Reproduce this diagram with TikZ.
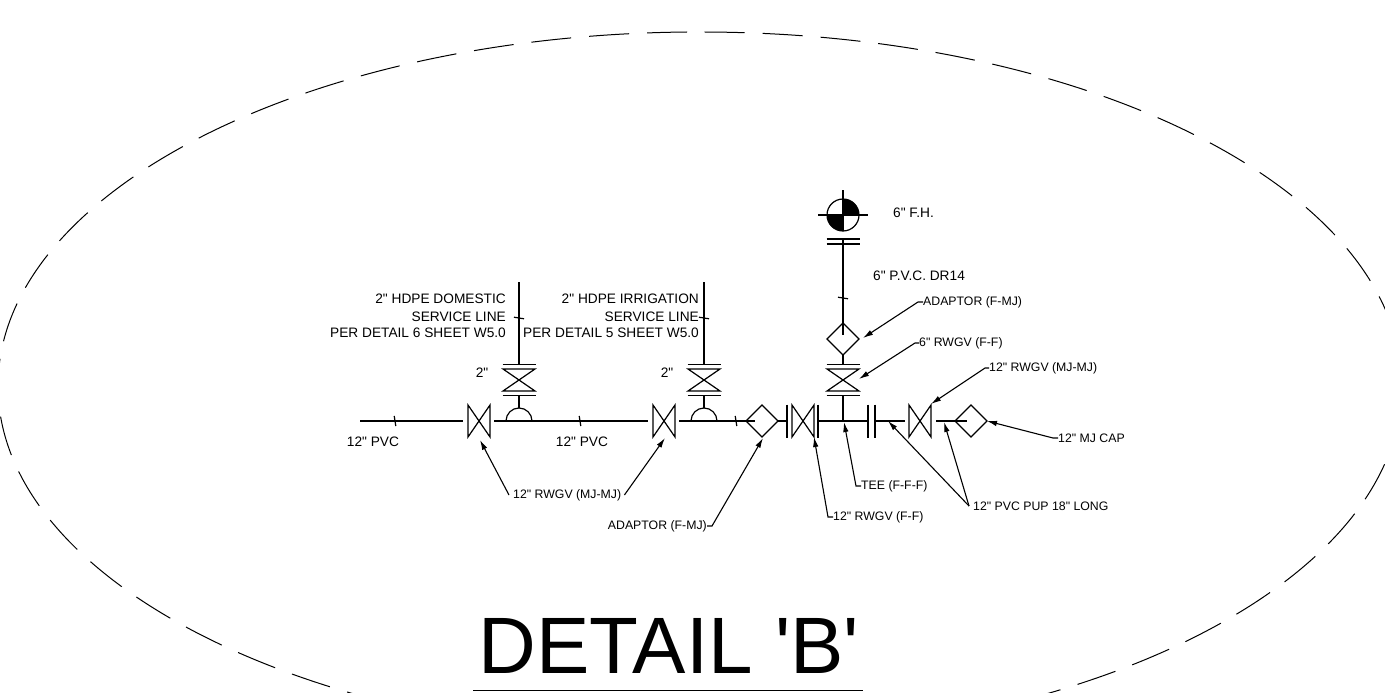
\documentclass[tikz,border=0pt]{standalone}
\usepackage{fontspec}
\newfontfamily\cadfont{Liberation Sans}
\usetikzlibrary{arrows.meta}
\tikzset{
	pipe/.style={line width=1.2pt, color=black},
	leader/.style={line width=1.1pt, color=black, -{Latex[length=10pt,width=5.5pt]}},
	outline/.style={line width=1pt, dash pattern=on 40pt off 18pt},
	lbl/.style={inner sep=0pt, font=\cadfont\fontsize{12.3}{14}\selectfont},
	lblbig/.style={inner sep=0pt, font=\cadfont\fontsize{13.7}{15}\selectfont}
}
\def\valveH(#1, #2){\draw[pipe, shift={(#1, #2)}] (-11, -16) -- (-11, 16) -- (11, -16) -- (11, 16) -- cycle;}
\def\valveV(#1, #2){\draw[pipe, shift={(#1, #2)}] (-16, -11) -- (16, -11) -- (-16, 11) -- (16, 11) -- cycle;}
\def\fitting(#1, #2){\draw[pipe, shift={(#1, #2)}] (-16, 0) -- (0, -16) -- (16, 0) -- (0, 16) -- cycle;}
\def\tickH(#1, #2){\draw[pipe, shift={(#1, #2)}] (-0.8, -5) -- (0.8, 5);}
\def\tickV(#1, #2){\draw[pipe, shift={(#1, #2)}] (-5, -0.8) -- (5, 0.8);}
\def\barH(#1, #2){\draw[pipe] (#1-16.5, #2) -- (#1+16.5, #2);}
\def\barV(#1, #2){\draw[pipe] (#1, #2-16.5) -- (#1, #2+16.5);}

\begin{document}
\begin{tikzpicture}[x=1pt, y=-1pt]
	%%%%% START %%%%%
	\useasboundingbox (0, 0) rectangle (1385, 693);
	\clip (0, 0) rectangle (1385, 693);

	\draw[outline] (704.7, 32) arc [start angle=-89.6, end angle=90, x radius=702, y radius=354];
	\draw[outline] (687, 32) arc [start angle=-91.06, end angle=-270, x radius=702, y radius=354];

	\node[inner sep=0pt, anchor=base, font=\cadfont\fontsize{80}{84}\selectfont] (title) at (669, 673) {DETAIL 'B'};
	\draw[line width=1.2pt] (473, 690.5) -- (863, 690.5);

	% main line
	\coordinate (a0) at (360, 421);
	\coordinate (a1) at (463, 421);
	\coordinate (a2) at (494, 421);
	\coordinate (a3) at (648, 421);
	\coordinate (a4) at (679, 421);
	\coordinate (a5) at (755, 421);
	\coordinate (a6) at (777, 421);
	\coordinate (a7) at (787, 421);
	\coordinate (a8) at (818, 421);
	\coordinate (a9) at (868, 421);
	\coordinate (a10) at (875, 421);
	\coordinate (a11) at (905, 421);
	\coordinate (a12) at (936, 421);
	\coordinate (a13) at (967, 421);
	\draw[pipe] (a0) -- (a1);
	\draw[pipe] (a2) -- (a3);
	\draw[pipe] (a4) -- (a5);
	\draw[pipe] (a6) -- (a7);
	\draw[pipe] (a8) -- (a9);
	\draw[pipe] (a10) -- (a11);
	\draw[pipe] (a12) -- (a13);

	\tickH(395, 421)
	\tickH(580, 421)
	\tickH(736, 421)
	\valveH(479, 421)
	\valveH(664, 421)
	\valveH(803, 421)
	\valveH(920, 421)
	\barV(787, 421)
	\barV(818, 421)
	\barV(868, 421)
	\barV(875, 421)
	\fitting(762, 421)
	\fitting(971, 421)

	% service lines
	\coordinate (b0) at (519, 282);
	\coordinate (b1) at (519, 364);
	\coordinate (b2) at (519, 395);
	\coordinate (b3) at (519, 408);
	\draw[pipe] (b0) -- (b1);
	\draw[pipe] (b2) -- (b3);
	\tickV(519, 318)
	\barH(519, 364.5)
	\valveV(519, 380)
	\barH(519, 395.5)
	\draw[pipe] (506, 421) arc (180:360:13);

	\coordinate (c0) at (704, 282);
	\coordinate (c1) at (704, 364);
	\coordinate (c2) at (704, 395);
	\coordinate (c3) at (704, 408);
	\draw[pipe] (c0) -- (c1);
	\draw[pipe] (c2) -- (c3);
	\tickV(704, 318)
	\barH(704, 364.5)
	\valveV(704, 380)
	\barH(704, 395.5)
	\draw[pipe] (691, 421) arc (180:360:13);

	% hydrant leg
	\coordinate (d0) at (843, 190);
	\coordinate (d1) at (843, 231);
	\coordinate (d2) at (843, 239);
	\coordinate (d3) at (843, 335);
	\coordinate (d4) at (843, 355);
	\coordinate (d5) at (843, 364);
	\coordinate (d6) at (843, 395);
	\coordinate (d7) at (843, 421);
	\coordinate (d8) at (818, 215);
	\coordinate (d9) at (868, 215);
	\fill (843, 215) -- (859, 215) arc (0:-90:16) -- cycle;
	\fill (843, 215) -- (827, 215) arc (180:90:16) -- cycle;
	\draw[pipe] (843, 215) circle (16);
	\draw[pipe] (d0) -- (d1);
	\draw[pipe] (d8) -- (d9);
	\barH(843, 239)
	\barH(843, 244)
	\draw[pipe] (d2) -- (d3);
	\tickV(843, 298)
	\fitting(843, 339)
	\draw[pipe] (d4) -- (d5);
	\barH(843, 364.5)
	\valveV(843, 380)
	\barH(843, 395.5)
	\draw[pipe] (d6) -- (d7);

	% labels
	\node[lblbig, anchor=east] (dom1) at (506, 299) {2" HDPE DOMESTIC};
	\node[lblbig, anchor=east] (dom2) at (506, 317) {SERVICE LINE};
	\node[lblbig, anchor=east] (dom3) at (506, 333) {PER DETAIL 6 SHEET W5.0};
	\node[lblbig, anchor=east] (irr1) at (699, 299) {2" HDPE IRRIGATION};
	\node[lblbig, anchor=east] (irr2) at (699, 317) {SERVICE LINE};
	\node[lblbig, anchor=east] (irr3) at (699, 333) {PER DETAIL 5 SHEET W5.0};
	\node[lblbig] (size1) at (482, 373) {2"};
	\node[lblbig] (size2) at (667, 373) {2"};
	\node[lblbig] (pvc1) at (373, 442) {12" PVC};
	\node[lblbig] (pvc2) at (582, 442) {12" PVC};
	\node[lblbig, anchor=west] (fh) at (893, 213) {6" F.H.};
	\node[lblbig, anchor=west] (dr14) at (873, 276) {6" P.V.C. DR14};

	\node[lbl, anchor=west] (rwgv1) at (513, 495) {12" RWGV (MJ-MJ)};
	\node[lbl, anchor=east] (adapt1) at (707, 526) {ADAPTOR (F-MJ)};
	\node[lbl, anchor=west] (rwgv2) at (833, 517) {12" RWGV (F-F)};
	\node[lbl, anchor=west] (tee) at (861, 486) {TEE (F-F-F)};
	\node[lbl, anchor=west] (pup) at (973, 506) {12" PVC PUP 18" LONG};
	\node[lbl, anchor=west] (cap) at (1058, 438) {12" MJ CAP};
	\node[lbl, anchor=west] (adapt2) at (923, 302) {ADAPTOR (F-MJ)};
	\node[lbl, anchor=west] (rwgv3) at (919, 343) {6" RWGV (F-F)};
	\node[lbl, anchor=west] (rwgv4) at (989, 368) {12" RWGV (MJ-MJ)};

	% leaders
	\coordinate (t1) at (480, 440);
	\coordinate (t2) at (665, 438);
	\coordinate (t3) at (763, 438);
	\coordinate (t4) at (814, 437);
	\coordinate (t5) at (844, 422);
	\coordinate (t6) at (888, 421);
	\coordinate (t7) at (944, 422);
	\coordinate (t8) at (987, 421);
	\coordinate (t9) at (863, 338);
	\coordinate (t10) at (859, 379);
	\coordinate (t11) at (931, 404);
	\draw[leader] (rwgv1.west) ++(-4, 0) -- (t1);
	\draw[leader] (rwgv1.east) ++(3, 0) -- (t2);
	\draw[leader] (adapt1.east) -- ++(5, 0) -- (t3);
	\draw[leader] (rwgv2.west) -- ++(-5, 0) -- (t4);
	\draw[leader] (tee.west) -- ++(-5, 0) -- (t5);
	\draw[leader] (pup.west) ++(-4, 0) -- (t6);
	\draw[leader] (pup.west) ++(-4, 0) -- (t7);
	\draw[leader] (cap.west) -- ++(-5, 0) -- (t8);
	\draw[leader] (adapt2.west) -- ++(-5, 0) -- (t9);
	\draw[leader] (rwgv3.west) -- ++(-4, 0) -- (t10);
	\draw[leader] (rwgv4.west) -- ++(-4, 0) -- (t11);
	%%%%% END %%%%%
\end{tikzpicture}
\end{document}
